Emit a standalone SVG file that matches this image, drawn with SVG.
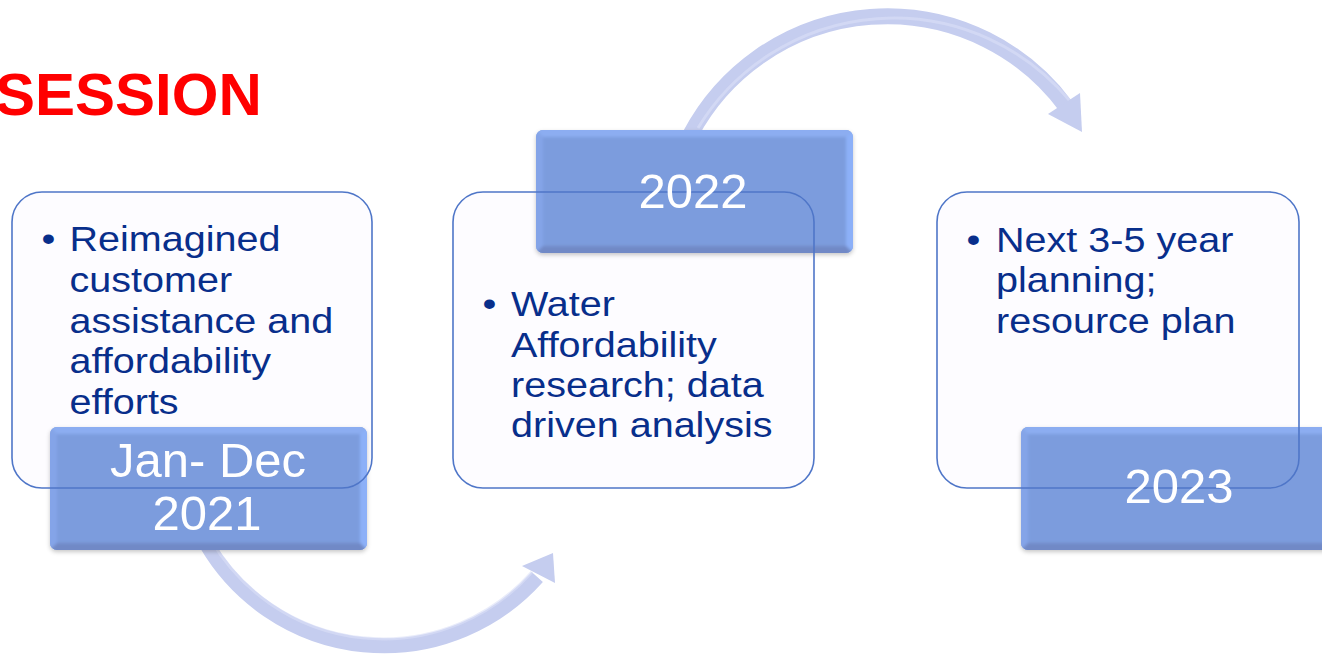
<svg xmlns="http://www.w3.org/2000/svg" xmlns:xlink="http://www.w3.org/1999/xlink" width="1322" height="660" viewBox="0 0 1322 660">
  <style>
    .panel { fill: #fdfcff; }
    .panel-edge { fill: none; stroke: #4f76c8; stroke-width: 1.6; }
    .body { font-family: "Liberation Sans", Arial, sans-serif; font-size: 35px; fill: #082e8b; }
    .year { font-family: "Liberation Sans", Arial, sans-serif; font-size: 49px; fill: #ffffff; text-anchor: middle; }
    .title { font-family: "Liberation Sans", Arial, sans-serif; font-size: 60px; font-weight: bold; fill: #ff0000; }
    .band { fill: none; stroke: #c5cdef; stroke-linecap: butt; }
    .band-hi { fill: none; stroke: #dbe0f7; stroke-width: 3; }
    .head { fill: #c5cdef; }
  </style>
  <defs>
    <clipPath id="tabClip">
      <rect x="0" y="0" width="317" height="123" rx="7"/>
    </clipPath>
    <filter id="tabShadow" x="-5%" y="-10%" width="110%" height="125%">
      <feDropShadow dx="0" dy="2" stdDeviation="2" flood-color="#000" flood-opacity="0.22"/>
    </filter>
    <filter id="soften" x="-5%" y="-5%" width="110%" height="110%">
      <feGaussianBlur stdDeviation="1.6"/>
    </filter>
    <!-- bevelled year tab -->
    <symbol id="tab" viewBox="0 0 317 123" width="317" height="123">
      <g clip-path="url(#tabClip)">
        <rect x="0" y="0" width="317" height="123" fill="#7c9cdd"/>
        <g filter="url(#soften)">
          <polygon points="-4,-4 321,-4 310,7 7,7" fill="#8cadf1"/>
          <polygon points="-4,-4 7,7 7,116 -4,127" fill="#84a4e8"/>
          <polygon points="321,-4 321,127 310,116 310,7" fill="#8cb0f8"/>
          <polygon points="-4,127 7,116 310,116 321,127" fill="#7189c6"/>
        </g>
      </g>
    </symbol>
  </defs>

  <rect width="1322" height="660" fill="#ffffff"/>

  <text class="title" x="-5" y="115">SESSION</text>

  <!-- curved connectors between stages -->
  <g id="connectors">
    <g id="arrow-2021-2022">
      <path class="band" stroke-width="15" d="M 206.6 544.3 A 205.5 205.5 0 0 0 537.3 577.0"/>
      <path class="band-hi" d="M 210 538 A 199 199 0 0 0 532 572" opacity="0.6"/>
      <polygon class="head" points="522,566 553,553 555,583"/>
    </g>
    <g id="arrow-2022-2023">
      <path class="band" stroke-width="16" d="M 690.5 134.5 A 222.6 222.6 0 0 1 1066.0 106.4"/>
      <path class="band-hi" d="M 698 128 A 229 229 0 0 1 1070 101" opacity="0.6"/>
      <polygon class="head" points="1048,114 1082,132 1080,93"/>
    </g>
  </g>

  <g id="stage-2021">
    <rect class="panel" x="12" y="192" width="360" height="296" rx="30"/>
    <use href="#tab" xlink:href="#tab" x="50" y="427" filter="url(#tabShadow)"/>
    <rect class="panel-edge" x="12" y="192" width="360" height="296" rx="30"/>
    <g transform="translate(69.5 0) scale(1.13 1)">
      <text class="body" x="-24.8" y="251.5">•</text>
      <text class="body" x="0" y="251.5">Reimagined</text>
      <text class="body" x="0" y="292.5">customer</text>
      <text class="body" x="0" y="333">assistance and</text>
      <text class="body" x="0" y="373.5">affordability</text>
      <text class="body" x="0" y="414">efforts</text>
    </g>
    <text class="year" x="208" y="477">Jan- Dec</text>
    <text class="year" x="207" y="530">2021</text>
  </g>

  <g id="stage-2022">
    <rect class="panel" x="453" y="192" width="361" height="296" rx="30"/>
    <use href="#tab" xlink:href="#tab" x="536" y="130" filter="url(#tabShadow)"/>
    <rect class="panel-edge" x="453" y="192" width="361" height="296" rx="30"/>
    <g transform="translate(511 0) scale(1.13 1)">
      <text class="body" x="-25.2" y="316.5">•</text>
      <text class="body" x="0" y="316.5">Water</text>
      <text class="body" x="0" y="357">Affordability</text>
      <text class="body" x="0" y="397">research; data</text>
      <text class="body" x="0" y="437.5">driven analysis</text>
    </g>
    <text class="year" x="693" y="208">2022</text>
  </g>

  <g id="stage-2023">
    <rect class="panel" x="937" y="192" width="362" height="296" rx="30"/>
    <use href="#tab" xlink:href="#tab" x="1021" y="427" filter="url(#tabShadow)"/>
    <rect class="panel-edge" x="937" y="192" width="362" height="296" rx="30"/>
    <g transform="translate(996 0) scale(1.13 1)">
      <text class="body" x="-26.1" y="252">•</text>
      <text class="body" x="0" y="252">Next 3-5 year</text>
      <text class="body" x="0" y="292.5">planning;</text>
      <text class="body" x="0" y="333">resource plan</text>
    </g>
    <text class="year" x="1179" y="503">2023</text>
  </g>
</svg>
